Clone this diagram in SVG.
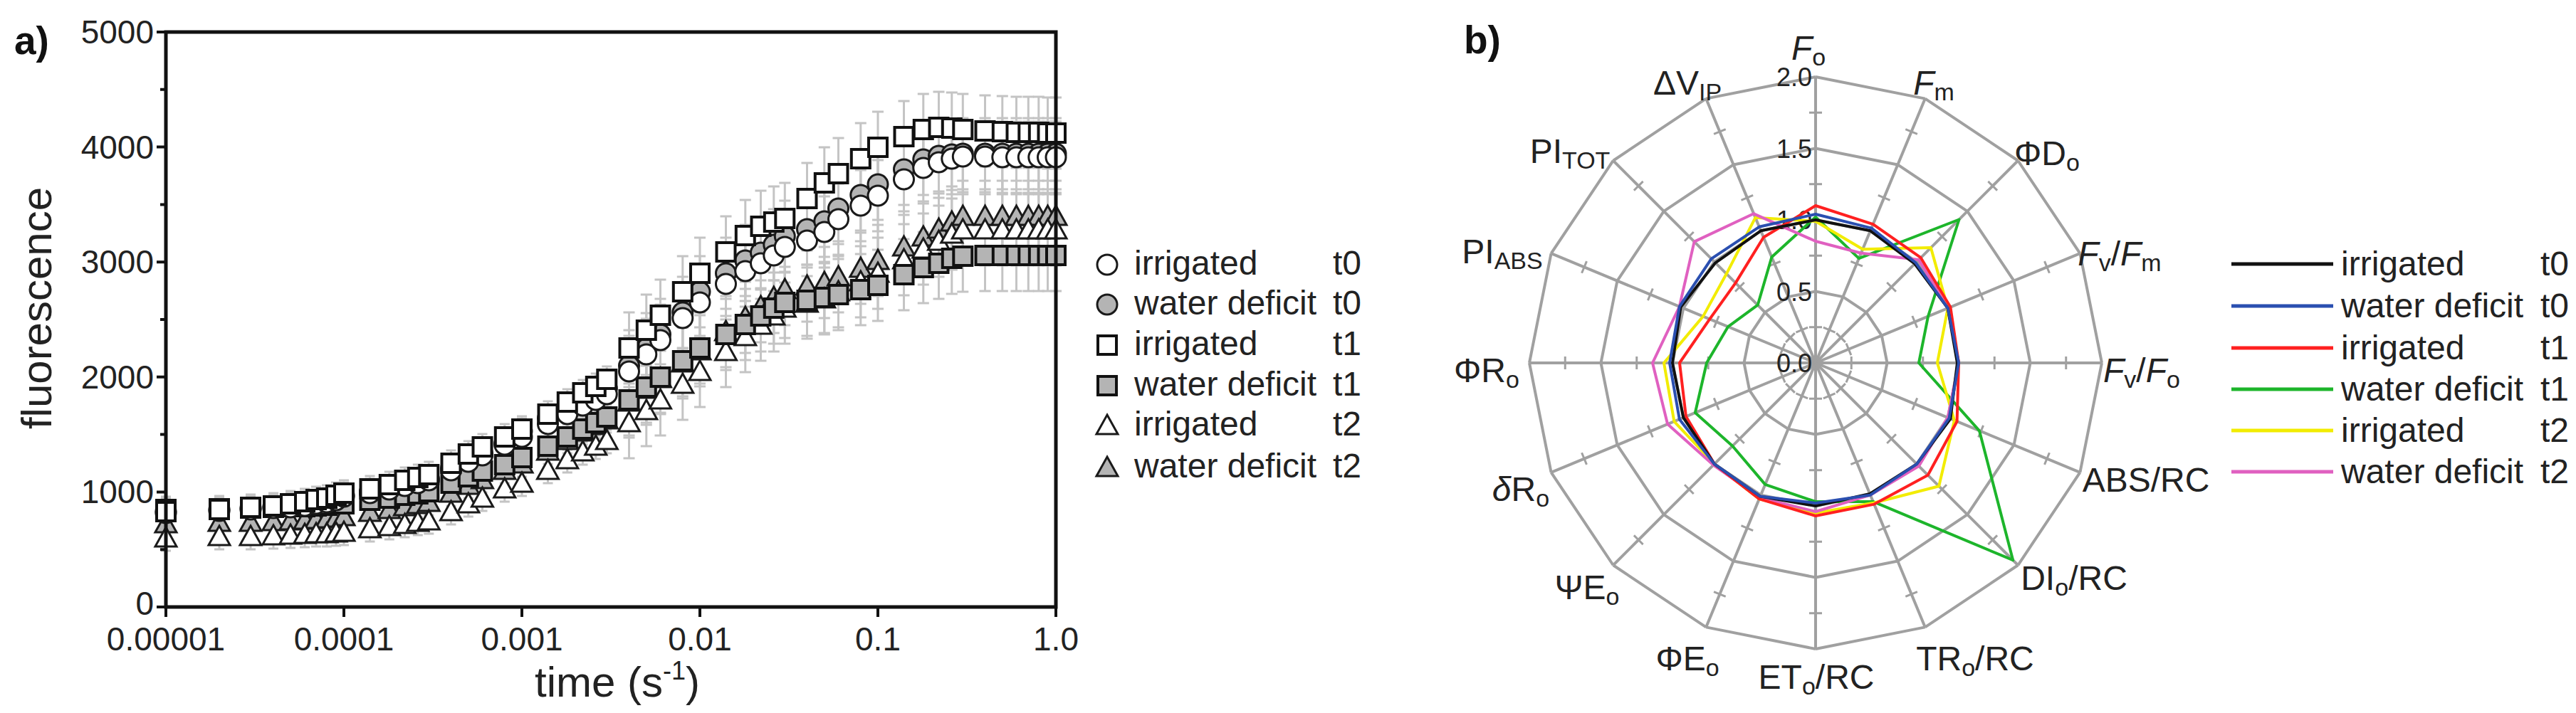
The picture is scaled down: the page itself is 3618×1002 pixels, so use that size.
<svg xmlns="http://www.w3.org/2000/svg" xmlns:xlink="http://www.w3.org/1999/xlink" width="3618" height="1002" viewBox="0 0 3618 1002">
<style>
text{font-family:"Liberation Sans",Arial,sans-serif;fill:#222}
.tk{font-size:46px}
.lg{font-size:48px}
.ax{font-size:60px}
.pl{font-size:55px;font-weight:bold;fill:#111}
.rl{font-size:36px;fill:#666}
.sub{font-size:34px}
.axis{stroke:#111;stroke-width:5;fill:none}
.tick{stroke:#111;stroke-width:4}
.spoke{stroke:#a0a0a0;stroke-width:4;fill:none;marker-mid:url(#rt)}
.ring{stroke:#a0a0a0;stroke-width:4;fill:none}
.ser{fill:none;stroke-width:4;stroke-linejoin:round}
.eS{marker:url(#eS)}
.eL{marker:url(#eL)}
.mcw{marker:url(#mcw)}
.mcg{marker:url(#mcg)}
.msw{marker:url(#msw)}
.msg{marker:url(#msg)}
.mtw{marker:url(#mtw)}
.mtg{marker:url(#mtg)}
</style>
<defs>
<marker id="rt" markerUnits="userSpaceOnUse" orient="auto" markerWidth="1" markerHeight="1" overflow="visible"><path d="M0,-9V9" stroke="#a0a0a0" stroke-width="3"/></marker>
<marker id="eS" markerUnits="userSpaceOnUse" markerWidth="1" markerHeight="1" overflow="visible"><path d="M0,-18V18M-7,-18H7M-7,18H7" stroke="#c4c4c4" stroke-width="3" fill="none"/></marker>
<marker id="eL" markerUnits="userSpaceOnUse" markerWidth="1" markerHeight="1" overflow="visible"><path d="M0,-50V50M-8,-50H8M-8,50H8" stroke="#c4c4c4" stroke-width="3" fill="none"/></marker>
<marker id="mcw" markerUnits="userSpaceOnUse" markerWidth="1" markerHeight="1" overflow="visible"><circle r="14" fill="#fff" stroke="#1a1a1a" stroke-width="3"/></marker>
<marker id="mcg" markerUnits="userSpaceOnUse" markerWidth="1" markerHeight="1" overflow="visible"><circle r="14" fill="#b4b4b4" stroke="#1a1a1a" stroke-width="3"/></marker>
<marker id="msw" markerUnits="userSpaceOnUse" markerWidth="1" markerHeight="1" overflow="visible"><rect x="-13" y="-13" width="26" height="26" fill="#fff" stroke="#111" stroke-width="4"/></marker>
<marker id="msg" markerUnits="userSpaceOnUse" markerWidth="1" markerHeight="1" overflow="visible"><rect x="-13" y="-13" width="26" height="26" fill="#b4b4b4" stroke="#111" stroke-width="4"/></marker>
<marker id="mtw" markerUnits="userSpaceOnUse" markerWidth="1" markerHeight="1" overflow="visible"><path d="M0,-15L15,12H-15Z" fill="#fff" stroke="#1a1a1a" stroke-width="3"/></marker>
<marker id="mtg" markerUnits="userSpaceOnUse" markerWidth="1" markerHeight="1" overflow="visible"><path d="M0,-15L15,12H-15Z" fill="#b4b4b4" stroke="#1a1a1a" stroke-width="3"/></marker>
<polyline id="s1a" fill="none" stroke="none" points="233,719 308,716 352,713 384,711 408,708 428,705 444,702 459,700 472,696 483,693 519.5,687 546.8,681 568.5,675 586.8,671 602.3,667 633.5,651 657.8,638 677.5,628 708.8,614 733,603 769.5,582 796.8,565 818.5,552 836.8,543 852.3,533"/>
<polyline id="s1b" fill="none" stroke="none" points="883.5,489 907.8,464 927.5,443 958.8,410 983,384 1019.5,354 1046.8,331 1068.5,318 1086.8,312 1102.3,307 1133.5,279 1157.8,257 1177.5,244 1208.8,223 1233,207 1269.5,192 1296.8,182 1318.5,179 1336.8,180 1352.3,182 1383.5,184 1407.8,185 1427.5,186 1444.3,186 1458.8,186 1471.5,187 1483,187"/>
<polyline id="s2a" fill="none" stroke="none" points="233,721 308,718 352,716 384,714 408,713 428,711 444,708 459,706 472,703 483,698 519.5,693 546.8,688 568.5,683 586.8,679 602.3,675 633.5,661 657.8,649 677.5,640 708.8,625 733,614 769.5,596 796.8,582 818.5,570 836.8,562 852.3,554"/>
<polyline id="s2b" fill="none" stroke="none" points="883.5,522 907.8,498 927.5,478 958.8,447 983,425 1019.5,399 1046.8,381 1068.5,370 1086.8,359 1102.3,347 1133.5,338 1157.8,326 1177.5,308 1208.8,289 1233,275 1269.5,252 1296.8,236 1318.5,228 1336.8,223 1352.3,220 1383.5,220 1407.8,221 1427.5,221 1444.3,221 1458.8,221 1471.5,221 1483,221"/>
<polyline id="s3a" fill="none" stroke="none" points="233,718.5 308,716 352,714 384,712 408,710.5 428,708.8 444,706.4 459,704 472,700.7 483,696 519.5,691 546.8,686 568.5,681 586.8,677 602.3,673 633.5,658.5 657.8,647 677.5,637.5 708.8,623 733,606 769.5,588 796.8,573.5 818.5,562 836.8,554 852.3,546"/>
<polyline id="s3b" fill="none" stroke="none" points="883.5,514 907.8,490 927.5,470 958.8,439 983,410 1019.5,384 1046.8,366 1068.5,355 1086.8,344 1102.3,332 1133.5,322 1157.8,311 1177.5,293 1208.8,274 1233,259 1269.5,238 1296.8,224 1318.5,219 1336.8,217 1352.3,216 1383.5,216 1407.8,216 1427.5,216 1444.3,216 1458.8,216 1471.5,216 1483,216"/>
<polyline id="s4a" fill="none" stroke="none" points="233,716 308,715 352,714 384,713 408,712 428,712 444,711 459,710 472,708 483,708 519.5,703 546.8,700 568.5,696 586.8,694 602.3,691 633.5,679 657.8,670 677.5,662 708.8,653 733,643 769.5,627 796.8,614 818.5,603 836.8,594 852.3,586"/>
<polyline id="s4b" fill="none" stroke="none" points="883.5,562 907.8,544 927.5,530 958.8,507 983,489 1019.5,470 1046.8,456 1068.5,444 1086.8,433 1102.3,425 1133.5,422 1157.8,418 1177.5,414 1208.8,407 1233,401 1269.5,386 1296.8,376 1318.5,370 1336.8,363 1352.3,360 1383.5,359 1407.8,359 1427.5,359 1444.3,359 1458.8,359 1471.5,359 1483,359"/>
<polyline id="s5a" fill="none" stroke="none" points="233,756 308,754 352,754 384,753 408,752 428,751 444,750 459,750 472,749 483,748 519.5,743 546.8,740 568.5,737 586.8,734 602.3,732 633.5,719 657.8,708 677.5,700 708.8,687 733,679 769.5,661 796.8,646 818.5,635 836.8,627 852.3,619"/>
<polyline id="s5b" fill="none" stroke="none" points="883.5,594 907.8,577 927.5,562 958.8,540 983,522 1019.5,494 1046.8,473 1068.5,457 1086.8,444 1102.3,433 1133.5,426 1157.8,420 1177.5,410 1208.8,396 1233,384 1269.5,365 1296.8,350 1318.5,339 1336.8,329 1352.3,323 1383.5,323 1407.8,323 1427.5,323 1444.3,323 1458.8,323 1471.5,323 1483,323"/>
<polyline id="s6a" fill="none" stroke="none" points="233,736 308,734 352,734 384,733 408,732 428,731 444,730 459,729 472,728 483,726 519.5,720 546.8,716 568.5,712 586.8,709 602.3,706 633.5,693 657.8,682 677.5,674 708.8,661 733,652 769.5,634 796.8,619 818.5,607 836.8,598 852.3,590"/>
<polyline id="s6b" fill="none" stroke="none" points="883.5,565 907.8,547 927.5,532 958.8,510 983,493 1019.5,466 1046.8,446 1068.5,431 1086.8,418 1102.3,407 1133.5,402 1157.8,397 1177.5,389 1208.8,377 1233,366 1269.5,347 1296.8,333 1318.5,322 1336.8,312 1352.3,304 1383.5,304 1407.8,304 1427.5,304 1444.3,304 1458.8,304 1471.5,304 1483,304"/>
<g id="spk"><path class="spoke" d="M0,0V-50.25V-150.75V-251.25V-351.75V-402"/><path class="ring" d="M0,-100.5L38.46,-92.85M0,-201L76.92,-185.7M0,-301.5L115.38,-278.56M0,-402L153.85,-371.4"/></g>
</defs>

<g id="panel-a">
<text class="pl" x="20" y="76">a)</text>
<g id="errorbars">
<use href="#s1a" class="eS"/><use href="#s1b" class="eL"/>
<use href="#s2a" class="eS"/><use href="#s2b" class="eL"/>
<use href="#s3a" class="eS"/><use href="#s3b" class="eL"/>
<use href="#s4a" class="eS"/><use href="#s4b" class="eL"/>
<use href="#s5a" class="eS"/><use href="#s5b" class="eL"/>
<use href="#s6a" class="eS"/><use href="#s6b" class="eL"/>
</g>
<g id="series-a">
<use href="#s6a" class="mtg"/><use href="#s6b" class="mtg"/>
<use href="#s5a" class="mtw"/><use href="#s5b" class="mtw"/>
<use href="#s4a" class="msg"/><use href="#s4b" class="msg"/>
<use href="#s3a" class="mcg"/><use href="#s3b" class="mcg"/>
<use href="#s2a" class="mcw"/><use href="#s2b" class="mcw"/>
<use href="#s1a" class="msw"/><use href="#s1b" class="msw"/>
</g>
<g id="axes-a">
<rect class="axis" x="233" y="45" width="1250" height="808"/>
<path class="tick" d="M220,853H233M220,691.4H233M220,529.8H233M220,368.2H233M220,206.6H233M220,45H233M225,772.2H233M225,610.6H233M225,449H233M225,287.4H233M225,125.8H233M233,853V867M483,853V867M733,853V867M983,853V867M1233,853V867M1483,853V867"/>
<g class="tk" text-anchor="end">
<text x="216" y="864">0</text><text x="216" y="707">1000</text><text x="216" y="546">2000</text><text x="216" y="384">3000</text><text x="216" y="223">4000</text><text x="216" y="61">5000</text>
</g>
<g class="tk" text-anchor="middle">
<text x="233" y="914">0.00001</text><text x="483" y="914">0.0001</text><text x="733" y="914">0.001</text><text x="983" y="914">0.01</text><text x="1233" y="914">0.1</text><text x="1483" y="914">1.0</text>
</g>
<text class="ax" text-anchor="middle" transform="rotate(-90 72 433)" x="72" y="433">fluorescence</text>
<text class="ax" text-anchor="middle" x="867" y="979">time (s<tspan font-size="36" dy="-24">-1</tspan><tspan dy="24">)</tspan></text>
</g>
<g id="legend-a">
<circle cx="1555" cy="372" r="14" fill="#fff" stroke="#1a1a1a" stroke-width="3"/>
<circle cx="1555" cy="428" r="14" fill="#b4b4b4" stroke="#1a1a1a" stroke-width="3"/>
<rect x="1542" y="472" width="26" height="26" fill="#fff" stroke="#111" stroke-width="4"/>
<rect x="1542" y="529" width="26" height="26" fill="#b4b4b4" stroke="#111" stroke-width="4"/>
<path d="M1555,583L1570,610H1540Z" fill="#fff" stroke="#1a1a1a" stroke-width="3"/>
<path d="M1555,642L1570,669H1540Z" fill="#b4b4b4" stroke="#1a1a1a" stroke-width="3"/>
<g class="lg">
<text x="1593" y="386">irrigated</text><text x="1872" y="386">t0</text>
<text x="1593" y="442">water deficit</text><text x="1872" y="442">t0</text>
<text x="1593" y="499">irrigated</text><text x="1872" y="499">t1</text>
<text x="1593" y="556">water deficit</text><text x="1872" y="556">t1</text>
<text x="1593" y="612">irrigated</text><text x="1872" y="612">t2</text>
<text x="1593" y="671">water deficit</text><text x="1872" y="671">t2</text>
</g>
</g>
</g>

<g id="panel-b">
<text class="pl" x="2056" y="75">b)</text>
<g id="grid-b">
<use href="#spk" transform="translate(2550,510)"/>
<use href="#spk" transform="translate(2550,510) rotate(22.5)"/>
<use href="#spk" transform="translate(2550,510) rotate(45)"/>
<use href="#spk" transform="translate(2550,510) rotate(67.5)"/>
<use href="#spk" transform="translate(2550,510) rotate(90)"/>
<use href="#spk" transform="translate(2550,510) rotate(112.5)"/>
<use href="#spk" transform="translate(2550,510) rotate(135)"/>
<use href="#spk" transform="translate(2550,510) rotate(157.5)"/>
<use href="#spk" transform="translate(2550,510) rotate(180)"/>
<use href="#spk" transform="translate(2550,510) rotate(202.5)"/>
<use href="#spk" transform="translate(2550,510) rotate(225)"/>
<use href="#spk" transform="translate(2550,510) rotate(247.5)"/>
<use href="#spk" transform="translate(2550,510) rotate(270)"/>
<use href="#spk" transform="translate(2550,510) rotate(292.5)"/>
<use href="#spk" transform="translate(2550,510) rotate(315)"/>
<use href="#spk" transform="translate(2550,510) rotate(337.5)"/>
<g class="rl" text-anchor="end">
<text x="2545" y="121">2.0</text><text x="2545" y="222">1.5</text><text x="2545" y="322">1.0</text><text x="2545" y="423">0.5</text><text x="2545" y="523">0.0</text>
</g>
</g>
<g id="series-b">
<polygon class="ser" stroke="#1db52b" points="2550,305 2610.8,363.1 2751.5,308.5 2708,444.6 2695,510 2780,605.3 2827.2,787.2 2630.7,704.9 2550,705 2479.2,680.9 2433.3,626.7 2380.9,580 2397,510 2427.1,459.1 2468.7,428.7 2488.4,361.3"/>
<polygon class="ser" stroke="#f2ec00" points="2550,311 2616.2,350.2 2711.9,348.1 2735.7,433.1 2721,510 2744.9,590.7 2723.2,683.2 2631.5,706.8 2550,721 2470.8,701.2 2407.9,652.1 2351.4,592.3 2337,510 2392,444.6 2424.8,384.8 2465.4,305.8"/>
<polygon class="ser" stroke="#e060c0" points="2550,339 2613.9,355.7 2695,365 2735.7,433.1 2751,510 2735.7,586.9 2695,655 2626.9,695.7 2550,719 2471.5,699.4 2406.5,653.5 2342.1,596.1 2321,510 2358.8,430.8 2379.6,339.6 2463.1,300.3"/>
<polygon class="ser" stroke="#ff2020" points="2550,289 2630.7,315.1 2697.8,362.2 2739.4,431.5 2751,510 2748.6,592.3 2707.7,667.7 2632.3,708.6 2550,725 2470.8,701.2 2407.9,652.1 2368,585.4 2359,510 2401.3,448.4 2437.6,397.6 2476.9,333.5"/>
<polygon class="ser" stroke="#111" points="2550,309 2626.9,324.3 2689.3,370.7 2735.7,433.1 2749,510 2739.4,588.5 2692.1,652.1 2626.2,693.9 2550,711 2472.3,697.6 2407.9,652.1 2364.3,586.9 2349,510 2360.6,431.5 2409.3,369.3 2473.1,324.3"/>
<polygon class="ser" stroke="#2a4fb0" points="2550,301 2628.5,320.6 2690.7,369.3 2735.7,433.1 2751,510 2737.6,587.7 2692.1,652.1 2626.9,695.7 2550,707 2472.3,697.6 2407.9,652.1 2358.8,589.2 2345,510 2358.8,430.8 2403.6,363.6 2470.8,318.8"/>
</g>
<g id="labels-b" class="lg" text-anchor="middle">
<text x="2540" y="84"><tspan font-style="italic">F</tspan><tspan class="sub" dy="8">o</tspan></text>
<text x="2716" y="133"><tspan font-style="italic">F</tspan><tspan class="sub" dy="8">m</tspan></text>
<text x="2875" y="232">ΦD<tspan class="sub" dy="8">o</tspan></text>
<text x="2977" y="373"><tspan font-style="italic">F</tspan><tspan class="sub" dy="8">v</tspan><tspan dy="-8">/</tspan><tspan font-style="italic">F</tspan><tspan class="sub" dy="8">m</tspan></text>
<text x="3008" y="537"><tspan font-style="italic">F</tspan><tspan class="sub" dy="8">v</tspan><tspan dy="-8">/</tspan><tspan font-style="italic">F</tspan><tspan class="sub" dy="8">o</tspan></text>
<text x="3014" y="691">ABS/RC</text>
<text x="2913" y="829">DI<tspan class="sub" dy="8">o</tspan><tspan dy="-8">/RC</tspan></text>
<text x="2774" y="942">TR<tspan class="sub" dy="8">o</tspan><tspan dy="-8">/RC</tspan></text>
<text x="2551" y="968">ET<tspan class="sub" dy="8">o</tspan><tspan dy="-8">/RC</tspan></text>
<text x="2370" y="942">ΦE<tspan class="sub" dy="8">o</tspan></text>
<text x="2229" y="842">ΨE<tspan class="sub" dy="8">o</tspan></text>
<text x="2136" y="704"><tspan font-style="italic">δ</tspan>R<tspan class="sub" dy="8">o</tspan></text>
<text x="2088" y="537">ΦR<tspan class="sub" dy="8">o</tspan></text>
<text x="2110" y="370">PI<tspan class="sub" dy="8">ABS</tspan></text>
<text x="2205" y="229">PI<tspan class="sub" dy="8">TOT</tspan></text>
<text x="2370" y="133">ΔV<tspan class="sub" dy="8">IP</tspan></text>
</g>
<g id="legend-b">
<path d="M3134,371H3277" stroke="#111" stroke-width="5"/>
<path d="M3134,430H3277" stroke="#2a4fb0" stroke-width="5"/>
<path d="M3134,489H3277" stroke="#ff2020" stroke-width="5"/>
<path d="M3134,547H3277" stroke="#1db52b" stroke-width="5"/>
<path d="M3134,605H3277" stroke="#f2ec00" stroke-width="5"/>
<path d="M3134,663H3277" stroke="#e060c0" stroke-width="5"/>
<g class="lg">
<text x="3288" y="387">irrigated</text><text x="3568" y="387">t0</text>
<text x="3288" y="446">water deficit</text><text x="3568" y="446">t0</text>
<text x="3288" y="505">irrigated</text><text x="3568" y="505">t1</text>
<text x="3288" y="563">water deficit</text><text x="3568" y="563">t1</text>
<text x="3288" y="621">irrigated</text><text x="3568" y="621">t2</text>
<text x="3288" y="679">water deficit</text><text x="3568" y="679">t2</text>
</g>
</g>
</g>
</svg>
